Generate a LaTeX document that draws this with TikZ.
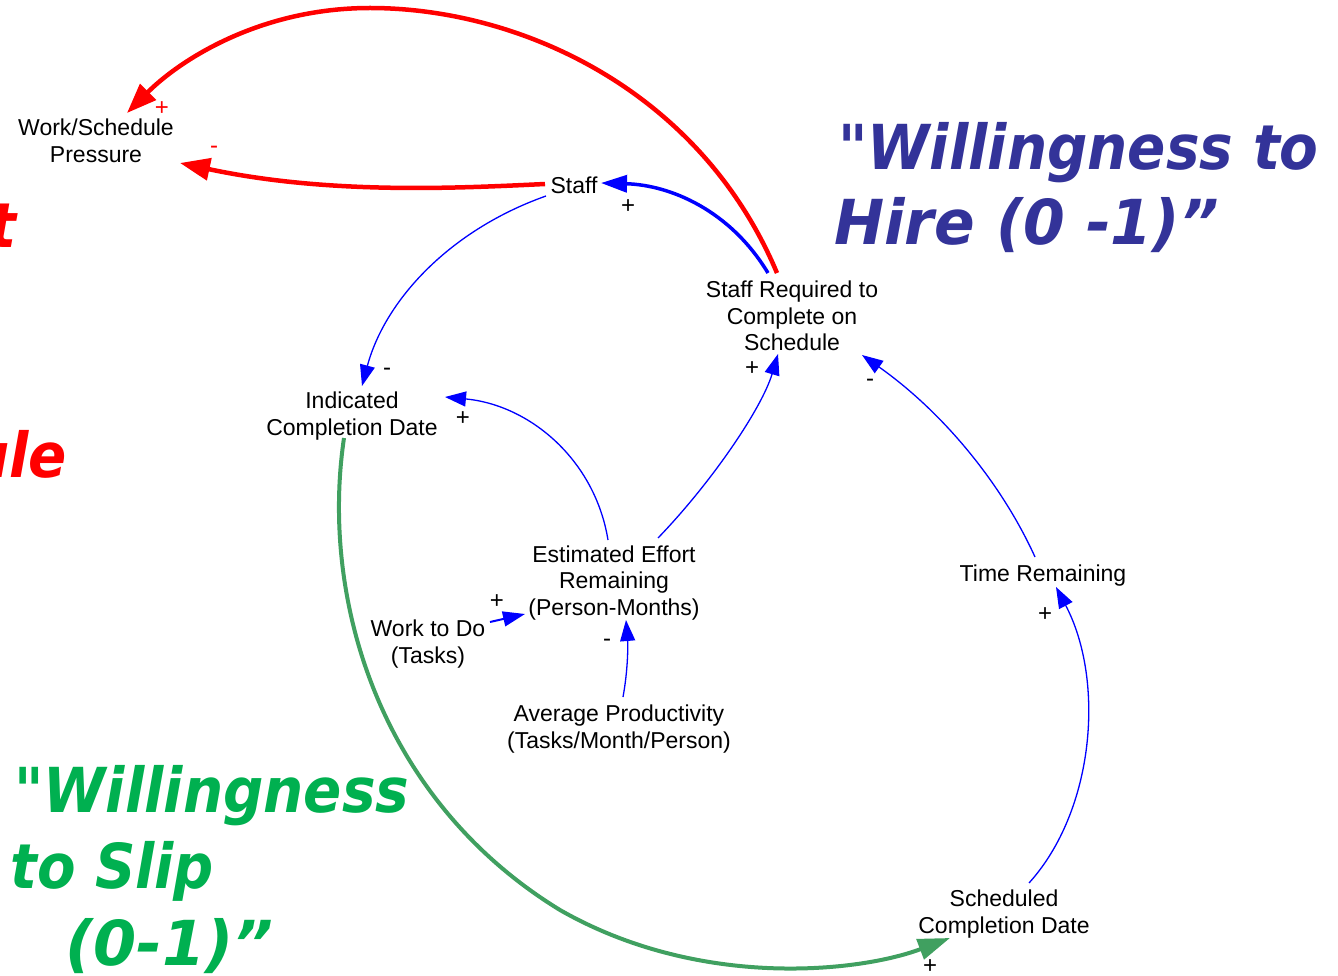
\documentclass[tikz,border=0pt]{standalone}
\usepackage{fontspec}
\usepackage{graphicx}
\setmainfont{Liberation Sans}
\newfontfamily\titlefont{DejaVu Sans}
\usetikzlibrary{arrows.meta}
\definecolor{titleblue}{RGB}{51,51,153}
\definecolor{titlegreen}{RGB}{0,176,80}
\definecolor{titlered}{RGB}{255,0,0}
\definecolor{linkgreen}{RGB}{64,160,96}
\definecolor{linkblue}{RGB}{0,0,255}
\definecolor{linkred}{RGB}{255,0,0}
\begin{document}
\begin{tikzpicture}[x=1pt,y=-1pt,
  var/.style={align=center,font=\fontsize{23}{26.5}\selectfont,inner sep=0pt},
  pol/.style={font=\fontsize{24}{24}\selectfont,inner sep=0pt},
  polred/.style={pol,text=linkred},
  bigtitle/.style={anchor=base west,inner sep=0pt,font=\titlefont\bfseries\itshape\fontsize{62}{75}\selectfont},
  thinlink/.style={draw=linkblue,line width=1.3pt,-{Triangle[length=21pt,width=15pt]}},
  midlink/.style={draw=linkblue,line width=2pt,-{Triangle[length=22pt,width=15pt]}},
  thicklink/.style={draw=linkblue,line width=3.5pt,-{Triangle[length=26pt,width=17pt]}},
  redlink/.style={draw=linkred,line width=4.5pt,-{Triangle[length=30pt,width=22pt]}},
  greenlink/.style={draw=linkgreen,line width=4pt,-{Triangle[length=32pt,width=21pt]}}
]
\useasboundingbox (0,0) rectangle (1338,976);
\fill[white] (0,0) rectangle (1338,976);

% titles
\node[bigtitle,text=titleblue] (hire1) at (838,170) {\scalebox{0.91}[1]{"Willingness to}};
\node[bigtitle,text=titleblue] (hire2) at (834,245) {\scalebox{0.967}[1]{Hire (0 -1)”}};
\node[bigtitle,text=titlegreen] (slip1) at (14,812) {\scalebox{0.91}[1]{"Willingness}};
\node[bigtitle,text=titlegreen] (slip2) at (10,888) {\scalebox{0.905}[1]{to Slip}};
\node[bigtitle,text=titlegreen] (slip3) at (65,965) {(0-1)”};
\begin{scope}
\clip (0,0) rectangle (1338,976);
\node[bigtitle,anchor=base east,text=titlered] (adj1) at (17,248) {\scalebox{0.91}[1]{t}};
\node[bigtitle,anchor=base east,text=titlered] (adj2) at (67,477) {\scalebox{0.91}[1]{ule}};
\end{scope}

% variables
\node[var] (wsp) at (96,141) {Work/Schedule\\Pressure};
\node[var] (staff) at (574,185) {Staff};
\node[var] (sreq) at (792,316) {Staff Required to\\Complete on\\Schedule};
\node[var] (icd) at (352,416) {Indicated\\Completion Date};
\node[var] (ere) at (614,583) {Estimated Effort\\Remaining\\(Person-Months)};
\node[var] (wtd) at (428,644) {Work to Do\\(Tasks)};
\node[var] (avg) at (619,729) {Average Productivity\\(Tasks/Month/Person)};
\node[var] (tr) at (1043,576) {Time Remaining};
\node[var] (scd) at (1004,914) {Scheduled\\Completion Date};

% links
\draw[redlink] ([shift={(-15,-43)}]sreq.center) .. controls (700,90) and (520,8) .. (370,8)
  .. controls (260,8) and (180,60) .. ([shift={(31,-28)}]wsp.center);
\draw[redlink] ([shift={(-29,-1)}]staff.center) .. controls (460,188) and (330,195) .. ([shift={(84,22)}]wsp.center);
\draw[thicklink] ([shift={(-24,-43)}]sreq.center) .. controls (730,210) and (670,185) .. ([shift={(27,-2)}]staff.center);
\draw[thinlink] ([shift={(-28,11)}]staff.center) .. controls (450,230) and (385,300) .. ([shift={(10,-30)}]icd.center);
\draw[thinlink] ([shift={(-6,-43)}]ere.center) .. controls (595,460) and (530,405) .. ([shift={(93,-19)}]icd.center);
\draw[thinlink] ([shift={(44,-45)}]ere.center) .. controls (712,482) and (762,408) .. ([shift={(-14,38)}]sreq.center);
\draw[thinlink] ([shift={(-8,-19)}]tr.center) .. controls (1000,480) and (940,410) .. ([shift={(70,39)}]sreq.center);
\draw[thinlink] ([shift={(25,-31)}]scd.center) .. controls (1095,810) and (1105,680) .. ([shift={(13,11)}]tr.center);
\draw[midlink] ([shift={(62,-22)}]wtd.center) -- ([shift={(-89,31)}]ere.center);
\draw[thinlink] ([shift={(4,-32)}]avg.center) .. controls (628,670) and (628,645) .. ([shift={(12,37)}]ere.center);
\draw[greenlink] ([shift={(-8,22)}]icd.center) .. controls (320,600) and (380,800) .. (560,910)
  .. controls (700,990) and (860,972) .. ([shift={(-54,24)}]scd.center);

% polarities
\node[polred] (p1) at (162,109) {+};
\node[polred] (p2) at (214,150) {-};
\node[pol] (p3) at (628,207) {+};
\node[pol] (p4) at (387,372) {-};
\node[pol] (p5) at (463,419) {+};
\node[pol] (p6) at (752,369) {+};
\node[pol] (p7) at (870,383) {-};
\node[pol] (p8) at (1045,615) {+};
\node[pol] (p9) at (497,602) {+};
\node[pol] (p10) at (607,643) {-};
\node[pol] (p11) at (930,967) {+};
\end{tikzpicture}
\end{document}
